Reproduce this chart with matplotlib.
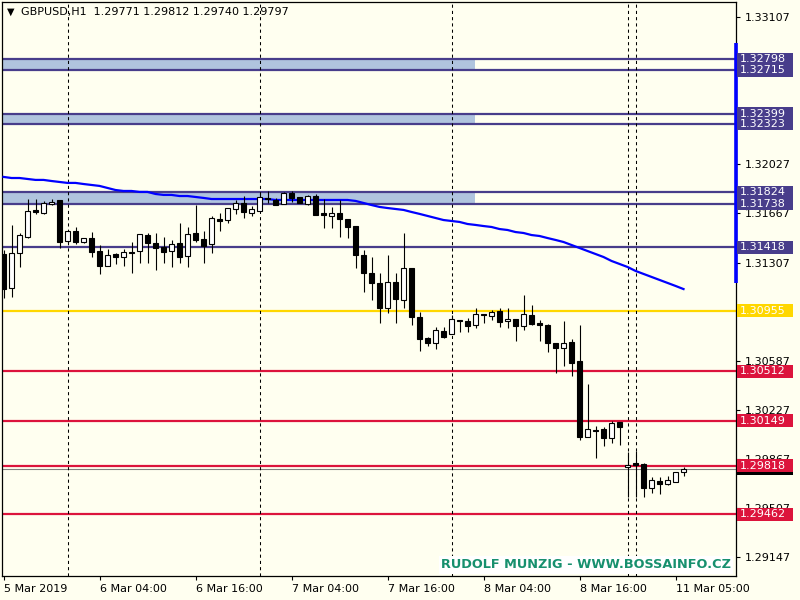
import matplotlib
matplotlib.use('Agg')
import matplotlib.pyplot as plt
import matplotlib.transforms as mtrans
from matplotlib.patches import Rectangle
import numpy as np

# GBPUSD H1 candles, 5 Mar 16:00 .. 11 Mar 06:00
opens = [1.31370, 1.31121, 1.31378, 1.31495, 1.31693, 1.31671, 1.31737, 1.31766,
         1.31465, 1.31539, 1.31458, 1.31487, 1.31392, 1.31282, 1.31370, 1.31348,
         1.31385, 1.31392, 1.31509, 1.31451, 1.31421, 1.31392, 1.31451, 1.31356,
         1.31524, 1.31480, 1.31443, 1.31627, 1.31619, 1.31700, 1.31744, 1.31671,
         1.31686, 1.31781, 1.31766, 1.31737, 1.31817, 1.31788, 1.31737, 1.31795,
         1.31671, 1.31649, 1.31671, 1.31627, 1.31575, 1.31363, 1.31231, 1.31158,
         1.30974, 1.31165, 1.31033, 1.31268, 1.30909, 1.30754, 1.30718, 1.30806,
         1.30784, 1.30886, 1.30879, 1.30849, 1.30931, 1.30916, 1.30953, 1.30879,
         1.30894, 1.30842, 1.30923, 1.30864, 1.30849, 1.30718, 1.30681, 1.30725,
         1.30586, 1.30029, 1.30080, 1.30087, 1.30021, 1.30139, 1.29809, 1.29838,
         1.29831, 1.29655, 1.29706, 1.29684, 1.29699, 1.29771]
highs = [1.31400, 1.31583, 1.31524, 1.31773, 1.31773, 1.31759, 1.31773, 1.31766,
         1.31539, 1.31568, 1.31487, 1.31531, 1.31436, 1.31407, 1.31378, 1.31407,
         1.31458, 1.31517, 1.31524, 1.31524, 1.31495, 1.31473, 1.31597, 1.31568,
         1.31729, 1.31539, 1.31649, 1.31671, 1.31707, 1.31766, 1.31795, 1.31722,
         1.31817, 1.31832, 1.31781, 1.31825, 1.31832, 1.31788, 1.31803, 1.31810,
         1.31773, 1.31715, 1.31766, 1.31627, 1.31575, 1.31400, 1.31348, 1.31231,
         1.31363, 1.31231, 1.31524, 1.31268, 1.30945, 1.30762, 1.30835, 1.30835,
         1.30923, 1.30886, 1.30901, 1.30974, 1.30931, 1.30960, 1.30974, 1.30974,
         1.30894, 1.31069, 1.30996, 1.30886, 1.30857, 1.30718, 1.30879, 1.30747,
         1.30849, 1.30418, 1.30109, 1.30102, 1.30146, 1.30139, 1.29919, 1.29926,
         1.29838, 1.29736, 1.29736, 1.29743, 1.29772, 1.29812]
lows = [1.31048, 1.31055, 1.31275, 1.31487, 1.31664, 1.31664, 1.31729, 1.31414,
        1.31451, 1.31443, 1.31451, 1.31348, 1.31224, 1.31282, 1.31297, 1.31282,
        1.31231, 1.31304, 1.31304, 1.31253, 1.31304, 1.31275, 1.31304, 1.31275,
        1.31458, 1.31304, 1.31378, 1.31539, 1.31597, 1.31664, 1.31634, 1.31649,
        1.31686, 1.31744, 1.31729, 1.31737, 1.31751, 1.31744, 1.31729, 1.31656,
        1.31561, 1.31561, 1.31495, 1.31487, 1.31268, 1.31091, 1.31033, 1.30864,
        1.30938, 1.30864, 1.30974, 1.30849, 1.30659, 1.30696, 1.30674, 1.30754,
        1.30784, 1.30798, 1.30798, 1.30827, 1.30864, 1.30886, 1.30835, 1.30827,
        1.30733, 1.30813, 1.30849, 1.30733, 1.30652, 1.30498, 1.30549, 1.30476,
        1.30007, 1.30029, 1.29875, 1.29963, 1.29985, 1.29970, 1.29589, 1.29589,
        1.29589, 1.29618, 1.29611, 1.29677, 1.29699, 1.29740]
closes = [1.31113, 1.31378, 1.31509, 1.31686, 1.31678, 1.31744, 1.31751, 1.31458,
          1.31539, 1.31458, 1.31487, 1.31385, 1.31282, 1.31363, 1.31348, 1.31385,
          1.31378, 1.31517, 1.31451, 1.31414, 1.31385, 1.31443, 1.31348, 1.31517,
          1.31473, 1.31429, 1.31634, 1.31612, 1.31707, 1.31744, 1.31678, 1.31700,
          1.31788, 1.31773, 1.31729, 1.31817, 1.31781, 1.31744, 1.31795, 1.31656,
          1.31656, 1.31671, 1.31627, 1.31568, 1.31363, 1.31231, 1.31158, 1.30974,
          1.31165, 1.31040, 1.31268, 1.30909, 1.30747, 1.30718, 1.30813, 1.30762,
          1.30894, 1.30879, 1.30842, 1.30931, 1.30923, 1.30945, 1.30871, 1.30894,
          1.30842, 1.30931, 1.30857, 1.30849, 1.30718, 1.30681, 1.30718, 1.30571,
          1.30029, 1.30087, 1.30073, 1.30021, 1.30131, 1.30102, 1.29823, 1.29823,
          1.29655, 1.29714, 1.29684, 1.29714, 1.29772, 1.29797]

# moving average (blue line)
ma = [1.31935, 1.31927, 1.31927, 1.31920, 1.31913, 1.31913, 1.31905, 1.31898,
      1.31891, 1.31891, 1.31883, 1.31876, 1.31869, 1.31854, 1.31839, 1.31832,
      1.31832, 1.31825, 1.31825, 1.31810, 1.31803, 1.31803, 1.31795, 1.31795,
      1.31788, 1.31781, 1.31773, 1.31773, 1.31773, 1.31773, 1.31773, 1.31773,
      1.31773, 1.31773, 1.31766, 1.31766, 1.31766, 1.31766, 1.31766, 1.31766,
      1.31766, 1.31766, 1.31766, 1.31766, 1.31759, 1.31744, 1.31729, 1.31715,
      1.31707, 1.31700, 1.31693, 1.31678, 1.31664, 1.31649, 1.31634, 1.31619,
      1.31612, 1.31605, 1.31590, 1.31583, 1.31575, 1.31568, 1.31553, 1.31546,
      1.31531, 1.31524, 1.31509, 1.31502, 1.31487, 1.31473, 1.31458, 1.31436,
      1.31414, 1.31392, 1.31370, 1.31348, 1.31319, 1.31297, 1.31275, 1.31246,
      1.31224, 1.31202, 1.31180, 1.31158, 1.31136, 1.31113]

# horizontal objects
zones = [(1.32715, 1.32798), (1.32323, 1.32399), (1.31738, 1.31824)]
zone_end = 58.94
navy_line = 1.31418
gold_line = 1.30955
red_lines = [1.30512, 1.30149, 1.29818, 1.29462]
bid = 1.29797
range_bar = (1.31158, 1.32917)

day_seps = [8, 32, 56, 78, 79]
xtick_pos = [0, 12, 24, 36, 48, 60, 72, 84]
xtick_lab = ['5 Mar 2019', '6 Mar 04:00', '6 Mar 16:00', '7 Mar 04:00',
             '7 Mar 16:00', '8 Mar 04:00', '8 Mar 16:00', '11 Mar 05:00']
yticks = [1.29147, 1.29507, 1.29867, 1.30227, 1.30587, 1.30947,
          1.31307, 1.31667, 1.32027, 1.32387, 1.32747, 1.33107]
# these grid prices sit fully under a level label in the terminal
hidden_ticks = [1.30947, 1.32387, 1.32747]

BG = '#FFFFF0'
NAVY = '#483D8B'
GOLD = '#FFD700'
RED = '#DC143C'

fig = plt.figure(figsize=(8, 6), dpi=100, facecolor=BG)
ax = fig.add_axes([2/800, 24/600, 734/800, 574/600], facecolor=BG)
ax.set_xlim(-0.19, 91.56)
ax.set_ylim(1.29010, 1.33217)

xlo = ax.get_xlim()[0]
for lo, hi in zones:
    ax.fill_between([xlo, zone_end], lo, hi, color='#B0C4DE', lw=0, zorder=1)
    ax.axhline(lo, color=NAVY, lw=1.6, zorder=2)
    ax.axhline(hi, color=NAVY, lw=1.6, zorder=2)
ax.axhline(navy_line, color=NAVY, lw=1.6, zorder=2)
ax.axhline(gold_line, color=GOLD, lw=1.6, zorder=2)
for r in red_lines:
    ax.axhline(r, color=RED, lw=1.6, zorder=2)
ax.axhline(bid, color='#808080', lw=0.8, zorder=2)

for d in day_seps:
    ax.axvline(d, color='black', lw=0.75, ls=(0, (3, 3)), zorder=2)

x = np.arange(len(opens))
ax.plot(x, ma, color='#0000FF', lw=1.6, zorder=3)

o = np.array(opens); c = np.array(closes)
ax.vlines(x, lows, highs, color='black', lw=0.8, zorder=4)
bottom = np.minimum(o, c)
height = np.maximum(np.abs(c - o), 0.00004)
fills = ['white' if cc > oo else 'black' for oo, cc in zip(o, c)]
ax.bar(x, height, bottom=bottom, width=0.6, color=fills, edgecolor='black',
       linewidth=0.8, zorder=5)

# right axis
ax.yaxis.tick_right()
ax.set_yticks(yticks)
ax.set_yticklabels(['' if t in hidden_ticks else '%.5f' % t for t in yticks])
ax.tick_params(axis='y', direction='out', length=3, width=0.8, pad=3,
               labelsize=8, colors='black')
ax.set_xticks(xtick_pos)
ax.set_xticklabels(xtick_lab)
ax.tick_params(axis='x', direction='out', length=3, width=0.8, pad=3, labelsize=8)
for lab in ax.get_xticklabels():
    lab.set_ha('left')
for s in ax.spines.values():
    s.set_linewidth(0.9)

# vertical range bar on the right edge
tr = mtrans.blended_transform_factory(ax.transAxes, ax.transData)
ax.plot([0.9996, 0.9996], range_bar, color='#0000FF', lw=2.6, transform=tr,
        clip_on=False, zorder=6, solid_capstyle='butt')

# price labels on the right, later ones on top
ftr = mtrans.blended_transform_factory(fig.transFigure, ax.transData)
h = 0.00095
z = [10]
def price_label(p, col, show_text=True):
    fig.add_artist(Rectangle((737/800, p - h/2), 56/800, h, transform=ftr,
                             facecolor=col, edgecolor='none', zorder=z[0]))
    if show_text:
        fig.text(740/800, p, '%.5f' % p, transform=ftr, color='white', fontsize=8,
                 ha='left', va='center', zorder=z[0] + 1)
    z[0] += 2

# bid label sits behind the 1.29818 label, only its edge shows
price_label(bid, 'black', show_text=False)
for lo, hi in zones:
    price_label(hi, NAVY)
    price_label(lo, NAVY)
price_label(navy_line, NAVY)
price_label(gold_line, GOLD)
for r in red_lines:
    price_label(r, RED)

# header and watermark
fig.text(7/800, 1 - 12/600, '\u25bc', fontsize=7, va='center', ha='left')
fig.text(21/800, 1 - 12/600, 'GBPUSD,H1  1.29771 1.29812 1.29740 1.29797',
         fontsize=8, va='center', ha='left')
fig.text(731/800, 1 - 565/600, 'RUDOLF MUNZIG - WWW.BOSSAINFO.CZ', fontsize=9.3,
         fontweight='bold', color='#17906E', ha='right', va='center',
         bbox=dict(facecolor='white', edgecolor='none', pad=1.5))

fig.savefig('out.png', dpi=100, facecolor=BG)
